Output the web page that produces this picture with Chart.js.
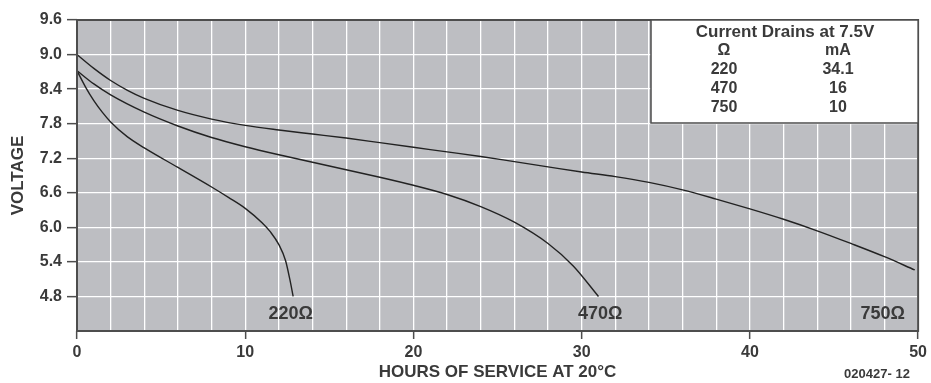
<!DOCTYPE html>
<html>
<head>
<meta charset="utf-8">
<script src="https://cdn.jsdelivr.net/npm/chart.js@4/dist/chart.umd.min.js"></script>
<style>
  html, body { margin: 0; padding: 0; background: #fff; }
  #wrap { width: 931px; height: 383px; }
</style>
</head>
<body>
<div id="wrap"><canvas id="myChart" width="931" height="383"></canvas></div>
<script>
// hours / volts, one pair per load
const hours220 = [0, 0.5, 1, 1.5, 2, 3, 4, 6, 8, 9, 10, 11, 11.5, 12, 12.4, 12.65, 12.85];
const volts220 = [8.72, 8.44, 8.20, 8.00, 7.83, 7.57, 7.38, 7.04, 6.70, 6.52, 6.33, 6.08, 5.92, 5.70, 5.42, 5.10, 4.80];

const hours470 = [0, 1, 2, 4, 6, 8, 10, 12, 14, 16, 18, 20, 22, 24, 26, 28, 29.5, 31];
const volts470 = [8.72, 8.49, 8.30, 8.00, 7.76, 7.56, 7.40, 7.26, 7.13, 7.00, 6.87, 6.73, 6.57, 6.36, 6.09, 5.72, 5.33, 4.80];

const hours750 = [0, 1, 2, 3, 4, 6, 8, 10, 12, 14, 16, 18, 20, 22, 24, 26, 28, 30, 32, 34, 36, 38, 40, 42, 44, 46, 48, 49.8];
const volts750 = [9.00, 8.76, 8.55, 8.38, 8.24, 8.03, 7.88, 7.77, 7.69, 7.62, 7.55, 7.47, 7.39, 7.31, 7.23, 7.14, 7.05, 6.96, 6.88, 6.78, 6.65, 6.49, 6.32, 6.14, 5.94, 5.72, 5.49, 5.26];

// curve labels and where they sit (hours, volts)
const curveLabels = ['220Ω', '470Ω', '750Ω'];
const labelHours = [12.7, 31.1, 47.9];
const labelVolts = [4.5, 4.5, 4.5];

// table in the corner
const tableTitle = 'Current Drains at 7.5V';
const tableHead = ['Ω', 'mA'];
const tableOhms = ['220', '470', '750'];
const tableMilliamps = ['34.1', '16', '10'];

const xTicks = [0, 10, 20, 30, 40, 50];
const yTicks = [4.8, 5.4, 6.0, 6.6, 7.2, 7.8, 8.4, 9.0, 9.6];

const FONT = '"Liberation Sans", Arial, sans-serif';
const INK = '#3a3a3a';
const EDGE = '#4d4d4d';

function pts(xs, ys) {
    return xs.map((x, i) => ({ x: x, y: ys[i] }));
}

function curve(xs, ys) {
    return {
        data: pts(xs, ys),
        borderColor: '#222',
        borderWidth: 1.4,
        pointRadius: 0,
        fill: false,
        cubicInterpolationMode: 'monotone'
    };
}

const plotFrame = {
    id: 'plotFrame',
    beforeDraw(chart) {
        const { ctx, chartArea: a } = chart;
        ctx.save();
        ctx.fillStyle = '#bdbec2';
        ctx.fillRect(a.left, a.top, a.right - a.left, a.bottom - a.top);
        ctx.restore();
    },
    afterDatasetsDraw(chart) {
        const { ctx, chartArea: a, scales } = chart;
        ctx.save();
        // frame
        ctx.strokeStyle = EDGE;
        ctx.lineWidth = 2;
        ctx.strokeRect(a.left, a.top, a.right - a.left, a.bottom - a.top);

        // curve labels
        ctx.fillStyle = INK;
        ctx.font = 'bold 18px ' + FONT;
        ctx.textAlign = 'center';
        ctx.textBaseline = 'middle';
        curveLabels.forEach((t, i) => {
            ctx.fillText(t, scales.x.getPixelForValue(labelHours[i]), scales.y.getPixelForValue(labelVolts[i]));
        });

        // table box
        const bx = 651, by = a.top, bw = a.right - bx, bh = 103;
        ctx.fillStyle = '#fff';
        ctx.fillRect(bx, by, bw, bh);
        ctx.strokeStyle = EDGE;
        ctx.lineWidth = 1.5;
        ctx.strokeRect(bx, by, bw, bh);
        ctx.fillStyle = INK;
        ctx.font = 'bold 17px ' + FONT;
        ctx.fillText(tableTitle, 785, by + 12);
        ctx.font = 'bold 16px ' + FONT;
        const c1 = 724, c2 = 838, rowH = 19;
        ctx.fillText(tableHead[0], c1, by + 31);
        ctx.fillText(tableHead[1], c2, by + 31);
        tableOhms.forEach((o, i) => {
            ctx.fillText(o, c1, by + 50 + i * rowH);
            ctx.fillText(tableMilliamps[i], c2, by + 50 + i * rowH);
        });

        // figure number
        ctx.font = 'bold 13px ' + FONT;
        ctx.fillText('020427- 12', 877, 374);
        ctx.restore();
    }
};

new Chart(document.getElementById('myChart'), {
    type: 'line',
    data: {
        datasets: [curve(hours220, volts220), curve(hours470, volts470), curve(hours750, volts750)]
    },
    options: {
        responsive: false,
        animation: false,
        layout: { padding: { top: 20, right: 10, left: 0, bottom: 0 } },
        plugins: { legend: { display: false }, tooltip: { enabled: false } },
        scales: {
            x: {
                type: 'linear',
                min: 0,
                max: 50,
                afterFit: s => { s.height = 52; },
                afterBuildTicks: s => {
                    s.ticks = [];
                    for (let v = 0; v <= 50; v += 2) s.ticks.push({ value: v });
                },
                border: { display: false },
                grid: {
                    color: '#ffffff',
                    lineWidth: 1.3,
                    tickLength: 8,
                    tickColor: c => (xTicks.includes(c.tick.value) ? EDGE : 'rgba(0,0,0,0)'),
                    tickWidth: 1.5
                },
                ticks: {
                    autoSkip: false,
                    maxRotation: 0,
                    padding: 4,
                    color: INK,
                    font: { family: FONT, size: 16, weight: 'bold' },
                    callback: v => (xTicks.includes(v) ? String(v) : '')
                },
                title: {
                    display: true,
                    text: 'HOURS OF SERVICE AT 20°C',
                    color: INK,
                    font: { family: FONT, size: 17, weight: 'bold' },
                    padding: { top: 0, bottom: 0 }
                }
            },
            y: {
                type: 'linear',
                min: 4.2,
                max: 9.6,
                afterFit: s => { s.width = 77; },
                afterBuildTicks: s => {
                    s.ticks = [{ value: 4.2 }].concat(yTicks.map(v => ({ value: v })));
                },
                border: { display: false },
                grid: {
                    color: '#ffffff',
                    lineWidth: 1.3,
                    tickLength: 10,
                    tickColor: c => (c.tick.value > 4.5 ? EDGE : 'rgba(0,0,0,0)'),
                    tickWidth: 1.5
                },
                ticks: {
                    autoSkip: false,
                    padding: 5,
                    color: INK,
                    font: { family: FONT, size: 16, weight: 'bold' },
                    callback: v => (v > 4.5 ? v.toFixed(1) : '')
                },
                title: {
                    display: true,
                    text: 'VOLTAGE',
                    color: INK,
                    font: { family: FONT, size: 17, weight: 'bold' },
                    padding: { top: 8, bottom: 0 }
                }
            }
        }
    },
    plugins: [plotFrame]
});
</script>
</body>
</html>
